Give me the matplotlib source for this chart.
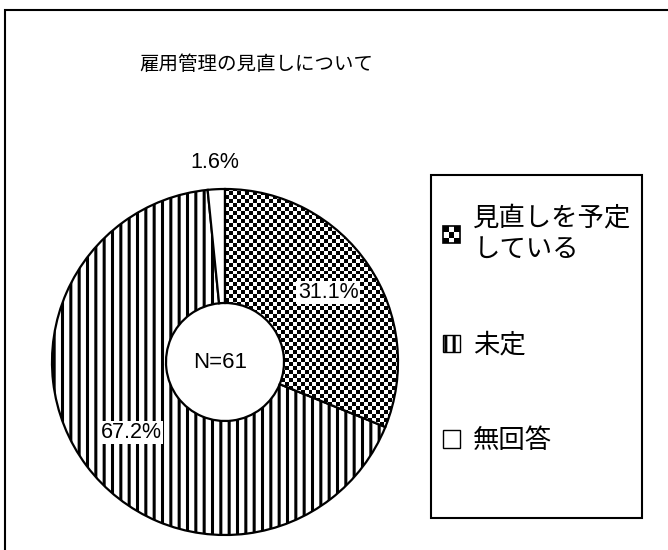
import numpy as np
import matplotlib
matplotlib.use('Agg')
import matplotlib.pyplot as plt
from matplotlib.patches import Rectangle
from matplotlib.legend_handler import HandlerBase

plt.rcParams['font.family'] = ['Noto Sans CJK JP', 'DejaVu Sans']
plt.rcParams['hatch.linewidth'] = 2.2

# データ
title = '雇用管理の見直しについて'
categories = ['見直しを予定\nしている', '未定', '無回答']
values = [31.1, 67.2, 1.6]
n_total = 61

W, H = 668, 550
fig = plt.figure(figsize=(W / 100, H / 100), dpi=100)

# 外枠
fig.patches.append(Rectangle((5 / W, -0.01), 1.0, 1 - 10 / H + 0.01,
                             transform=fig.transFigure, fill=False,
                             edgecolor='black', linewidth=1.5))

fig.text(256 / W, 1 - 65 / H, title, ha='center', va='center', fontsize=14)

# 円グラフ（ドーナツ）
cx, cy, R = 225, 362, 175
ax = fig.add_axes([(cx - R) / W, (H - cy - R) / H, 2 * R / W, 2 * R / H])
wedges, _ = ax.pie(values, startangle=90, counterclock=False, radius=173 / R,
                   wedgeprops=dict(width=114 / R, edgecolor='black', linewidth=1.6))

wedges[0].set_facecolor('none')
wedges[0].set_zorder(3)
wedges[1].set_facecolor('white')
wedges[1].set_hatch('||')
wedges[2].set_facecolor('white')

# 市松模様
n = 88
checker = np.indices((n, n)).sum(axis=0) % 2
im = ax.imshow(checker, cmap='gray', extent=(-1, 1, -1, 1),
               interpolation='nearest', zorder=2)
im.set_clip_path(wedges[0])

ax.set_xlim(-1, 1)
ax.set_ylim(-1, 1)
ax.set_aspect('equal')
ax.axis('off')

# ラベル
dists = [0.71, 0.67, 1.14]
for w, v, d, boxed in zip(wedges, values, dists, [True, True, False]):
    ang = np.deg2rad((w.theta1 + w.theta2) / 2)
    ax.text(d * np.cos(ang), d * np.sin(ang), f'{v:.1f}%', ha='center', va='center',
            fontsize=15.5, family='Liberation Sans', zorder=5,
            bbox=dict(facecolor='white', edgecolor='none', pad=1) if boxed else None)

ax.text(-0.03, 0, f'N={n_total}', ha='center', va='center', fontsize=16,
        family='Liberation Sans', zorder=5)


# 凡例
class CheckerHandler(HandlerBase):
    def create_artists(self, legend, orig_handle, xdescent, ydescent,
                       width, height, fontsize, trans):
        k = 3
        side = min(width, height)
        s = side / k
        x0 = -xdescent + (width - side) / 2
        y0 = -ydescent + (height - side) / 2
        arts = []
        for i in range(k):
            for j in range(k):
                c = 'black' if (i + j) % 2 == 0 else 'white'
                arts.append(Rectangle((x0 + i * s, y0 + j * s), s, s, facecolor=c,
                                      edgecolor='none', transform=trans))
        arts.append(Rectangle((x0, y0), side, side, fill=False, edgecolor='black',
                              linewidth=1.2, transform=trans))
        return arts


fig.patches.append(Rectangle((431 / W, 1 - 518 / H), 211 / W, 343 / H,
                             transform=fig.transFigure, facecolor='white',
                             edgecolor='black', linewidth=1.5))

h0 = Rectangle((0, 0), 1, 1)
h1 = Rectangle((0, 0), 1, 1, facecolor='white', edgecolor='black', hatch='||')
h2 = Rectangle((0, 0), 1, 1, facecolor='white', edgecolor='black')
leg = fig.legend([h0, h1, h2], categories, handler_map={h0: CheckerHandler()},
                 loc='upper left', bbox_to_anchor=(443 / W, 1 - 204 / H),
                 frameon=False, fontsize=19, borderpad=0, borderaxespad=0,
                 handlelength=0.65, handleheight=0.65, handletextpad=0.5,
                 labelspacing=2.6)
leg.get_texts()[0].set_linespacing(1.25)

fig.savefig('out.png', dpi=100)
